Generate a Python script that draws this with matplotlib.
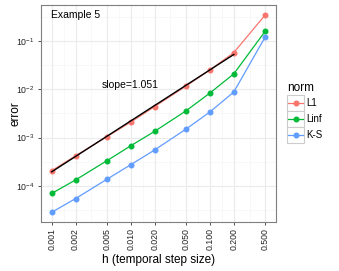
import numpy as np
import matplotlib
matplotlib.use("Agg")
import matplotlib.pyplot as plt
from matplotlib.patches import Rectangle
from matplotlib.ticker import FixedLocator, NullFormatter

plt.rcParams.update({
    'font.family': ['Liberation Sans', 'DejaVu Sans'],
    'font.size': 8,
    'mathtext.default': 'regular',
})

# data
h = [0.001, 0.002, 0.005, 0.010, 0.020, 0.050, 0.100, 0.200, 0.500]
h_labels = ['0.001', '0.002', '0.005', '0.010', '0.020', '0.050', '0.100', '0.200', '0.500']
err_l1 = [2.07e-4, 4.2e-4, 1.05e-3, 2.1e-3, 4.4e-3, 1.17e-2, 2.52e-2, 5.75e-2, 0.347]
err_linf = [7.0e-5, 1.33e-4, 3.34e-4, 6.8e-4, 1.35e-3, 3.6e-3, 8.4e-3, 2.09e-2, 0.16]
err_ks = [2.85e-5, 5.47e-5, 1.38e-4, 2.76e-4, 5.56e-4, 1.51e-3, 3.4e-3, 8.8e-3, 0.122]
norms = ['L1', 'Linf', 'K-S']
colors = ['#F8766D', '#00BA38', '#619CFF']

fig = plt.figure(figsize=(3.39, 2.71), dpi=100)
ax = fig.add_axes([0.121, 0.181, 0.693, 0.8005])

# grid like theme_bw
xl = np.log10(h)
x_minor = 10 ** ((xl[:-1] + xl[1:]) / 2)
y_major = [1e-4, 1e-3, 1e-2, 1e-1]
y_minor = [10 ** -4.5, 10 ** -3.5, 10 ** -2.5, 10 ** -1.5, 10 ** -0.5]
for v in x_minor:
    ax.axvline(v, color='#f5f5f5', lw=0.5, zorder=0)
for v in y_minor:
    ax.axhline(v, color='#f5f5f5', lw=0.5, zorder=0)
for v in h:
    ax.axvline(v, color='#ebebeb', lw=0.8, zorder=0)
for v in y_major:
    ax.axhline(v, color='#ebebeb', lw=0.8, zorder=0)

for vals, c in zip([err_l1, err_linf, err_ks], colors):
    ax.plot(h, vals, color=c, lw=0.9, marker='o', ms=3.3, zorder=3)

# fitted slope line over h <= 0.2
fit_h = np.array(h[:-1])
coef = np.polyfit(np.log10(fit_h), np.log10(err_l1[:-1]), 1)
ax.plot(fit_h, 10 ** np.polyval(coef, np.log10(fit_h)), color='black', lw=1.0, zorder=4)

ax.text(0.0098, 0.012, 'slope=1.051', ha='center', va='center', fontsize=7.5)
ax.text(0.00098, 0.34, 'Example 5', ha='left', va='center', fontsize=7.5)

ax.set_xscale('log')
ax.set_yscale('log')
ax.set_xlim(10 ** -3.135, 10 ** -0.166)
ax.set_ylim(10 ** -4.745, 10 ** -0.255)
ax.xaxis.set_major_locator(FixedLocator(h))
ax.xaxis.set_minor_locator(FixedLocator([]))
ax.xaxis.set_minor_formatter(NullFormatter())
ax.set_xticklabels(h_labels, rotation=90)
ax.yaxis.set_major_locator(FixedLocator(y_major))
ax.yaxis.set_minor_locator(FixedLocator([]))
ax.tick_params(axis='both', length=2.5, width=0.6, color='#333333', labelsize=6.3,
               labelcolor='#222222', pad=2)

for s in ax.spines.values():
    s.set_color('#7f7f7f')
    s.set_linewidth(0.8)

ax.set_xlabel('h (temporal step size)', fontsize=8.5, labelpad=3)
ax.set_ylabel('error', fontsize=8.5, labelpad=0)
ax.yaxis.set_label_coords(-0.085, 0.5)

# legend drawn ggplot-style: one bordered key box per norm
lax = fig.add_axes([287 / 339, 1 - 143 / 271, 17 / 339, 48 / 271])
lax.set_xlim(0, 1)
lax.set_ylim(0, len(norms))
lax.axis('off')
for i, (name, c) in enumerate(zip(norms, colors)):
    yc = len(norms) - i - 0.5
    lax.add_patch(Rectangle((0, yc - 0.5), 1, 1, facecolor='white',
                            edgecolor='#cccccc', lw=0.8, clip_on=False))
    lax.plot([0.05, 0.95], [yc, yc], color=c, lw=0.9, clip_on=False)
    lax.plot([0.5], [yc], color=c, marker='o', ms=3.3, clip_on=False)
    lax.text(1.15, yc, name, ha='left', va='center', fontsize=7)
lax.text(0.0, len(norms) + 0.08, 'norm', ha='left', va='bottom', fontsize=8.5)

fig.savefig('out.png', dpi=100)
